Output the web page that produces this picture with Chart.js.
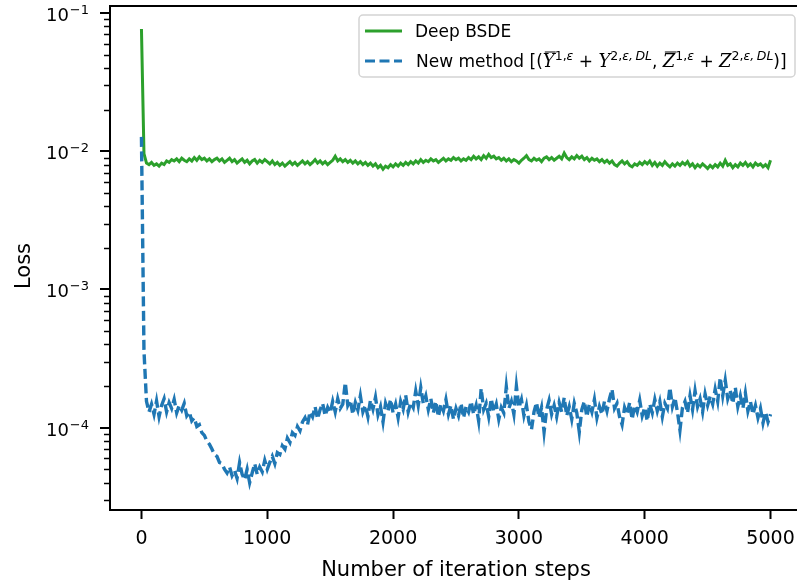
<!DOCTYPE html>
<html>
<head>
    <title>Loss curves</title>
    <style>
        html, body { margin: 0; padding: 0; overflow: hidden; background: #ffffff; }
        #wrap { width: 812px; height: 588px; }
    </style>
    <script src="https://cdn.jsdelivr.net/npm/chart.js"></script>
</head>
<body>
<div id="wrap"><canvas id="lossChart"></canvas></div>
<script>
// iteration steps are logged every 20 steps, 0..5000
const logEvery = 20;
const steps = Array.from({ length: 251 }, (_, i) => i * logEvery);

// Deep BSDE loss, in units of 1e-3
const greenLossE3 = [
    76.6, 9.6, 8.2, 8.0, 8.3, 7.9, 8.1, 7.8, 8.2, 8.0,
    8.5, 8.3, 8.7, 8.5, 8.8, 8.4, 8.9, 8.6, 8.4, 8.8,
    8.5, 9.0, 8.6, 9.1, 8.7, 8.9, 8.5, 8.8, 8.4, 8.7,
    8.9, 8.5, 8.8, 8.3, 8.6, 8.9, 8.4, 8.7, 8.2, 8.5,
    8.8, 8.3, 8.6, 8.1, 8.5, 8.7, 8.2, 8.6, 8.3, 8.7,
    8.4, 8.1, 8.5, 8.0, 8.3, 7.9, 8.2, 7.8, 8.1, 8.4,
    8.0, 8.3, 7.9, 8.2, 8.5, 8.1, 8.4, 8.0, 8.3, 8.7,
    8.2, 8.5, 8.1, 8.4, 8.0, 8.3, 8.6, 9.2, 8.5, 8.8,
    8.4, 8.7, 8.3, 8.6, 8.2, 8.5, 8.1, 8.4, 8.0, 8.3,
    7.9, 8.2, 7.8, 8.1, 7.6, 7.9, 7.4, 7.8, 7.6, 8.0,
    7.7, 8.1, 7.8, 8.2, 7.9, 8.3, 8.0, 8.4, 8.1, 8.5,
    8.2, 8.7, 8.3, 8.6, 8.4, 8.8, 8.5, 8.7, 8.3, 8.6,
    8.9, 8.5, 8.8, 8.6, 9.0, 8.7, 8.9, 8.5, 8.8, 8.6,
    9.0, 8.7, 9.2, 8.8, 9.1, 8.7, 9.3, 8.9, 9.5, 9.0,
    9.2, 8.8, 9.0, 8.6, 8.9, 8.5, 8.8, 8.4, 8.7, 8.5,
    8.2, 8.6, 8.9, 9.3, 8.7, 8.5, 8.9, 8.6, 8.8, 8.4,
    8.9, 9.1, 8.7, 9.0, 8.6, 8.9, 9.2, 8.8, 9.7, 9.0,
    8.7, 9.1, 8.8, 9.3, 8.9, 9.2, 8.7, 9.0, 8.5, 8.9,
    8.6, 8.8, 8.4, 8.7, 8.3, 8.6, 8.2, 8.5, 8.0, 7.8,
    8.2, 8.5, 8.1, 8.4, 7.9, 7.7, 8.1, 7.9, 8.3, 8.0,
    8.4, 8.1, 8.5, 7.9, 8.3, 7.8, 8.2, 7.9, 8.4, 8.0,
    7.7, 8.1, 7.8, 8.2, 7.9, 8.3, 8.0, 8.4, 7.8, 8.1,
    7.6, 8.0, 7.7, 8.1, 7.8, 7.5, 7.9, 7.6, 8.0, 7.7,
    8.2, 7.8, 8.6, 7.9, 8.1, 7.6, 8.0, 7.7, 8.2, 7.9,
    8.3, 7.8, 8.1, 7.7, 8.2, 7.9, 8.1, 7.7, 8.0, 7.6,
    8.6
];

// New method loss, in units of 1e-4
const blueLossE4 = [
    127, 3.6, 1.55, 1.30, 1.48, 1.25, 1.56, 1.20, 1.45, 1.62,
    1.30, 1.52, 1.38, 1.60, 1.28, 1.45, 1.34, 1.50, 1.22, 1.30,
    1.12, 1.18, 1.02, 1.05, 0.92, 0.88, 0.80, 0.76, 0.70, 0.64,
    0.62, 0.56, 0.55, 0.50, 0.47, 0.52, 0.45, 0.49, 0.43, 0.56,
    0.46, 0.42, 0.50, 0.40, 0.47, 0.55, 0.46, 0.52, 0.48, 0.58,
    0.50, 0.56, 0.62, 0.55, 0.66, 0.64, 0.74, 0.70, 0.84, 0.78,
    0.92, 0.88, 1.02, 0.95, 1.10, 1.18, 1.05, 1.30, 1.20, 1.42,
    1.16, 1.35, 1.50, 1.22, 1.40, 1.28, 1.55, 1.30, 1.62, 1.38,
    1.48, 2.12, 1.45, 1.58, 1.25, 1.52, 1.34, 1.70, 1.30, 1.45,
    1.20, 1.58, 1.36, 1.66, 1.24, 1.42, 1.10, 1.50, 1.32, 1.60,
    1.28, 1.48, 1.18, 1.55, 1.36, 1.72, 1.30, 1.52, 1.40, 1.84,
    1.45, 1.95, 1.50, 1.70, 1.35, 1.62, 1.28, 1.55, 1.20, 1.48,
    1.32, 1.60, 1.25, 1.45, 1.15, 1.38, 1.22, 1.50, 1.18, 1.42,
    1.30, 1.55, 1.25, 1.45, 1.12, 1.92, 1.35, 1.50, 1.20, 1.62,
    1.30, 1.48, 1.15, 1.40, 1.28, 1.98, 1.38, 1.55, 1.25, 2.00,
    1.40, 1.60, 1.22, 1.45, 1.10, 0.97, 1.30, 1.52, 1.18, 1.40,
    0.93, 1.35, 1.58, 1.25, 1.45, 1.20, 1.52, 1.30, 1.65, 1.22,
    1.42, 1.15, 1.50, 1.28, 0.93, 1.35, 1.55, 1.20, 1.48, 1.30,
    1.60, 1.18, 1.42, 1.25, 1.55, 1.32, 1.62, 1.90, 1.38, 1.50,
    1.20, 1.05, 1.40, 1.25, 1.52, 1.15, 1.45, 1.30, 1.58, 1.22,
    1.40, 1.12, 1.48, 1.28, 1.60, 1.32, 1.55, 1.20, 1.50, 1.38,
    1.95, 1.42, 1.65, 1.30, 0.96, 1.40, 1.55, 1.28, 1.70, 1.35,
    1.85, 1.42, 1.62, 1.30, 1.75, 1.45, 1.68, 1.48, 1.90, 1.55,
    2.30, 1.70, 2.20, 1.62, 1.85, 1.50, 1.95, 1.42, 1.70, 1.38,
    1.78, 1.32, 1.55, 1.25, 1.45, 1.18, 1.38, 1.08, 1.30, 1.10,
    1.25
];

const xTickValues = [0, 1000, 2000, 3000, 4000, 5000];
const yMajorTicks = [1e-4, 1e-3, 1e-2, 1e-1];
const yMajorExponents = ['\u22124', '\u22123', '\u22122', '\u22121'];
const yMinorTicks = [];
[1e-5, 1e-4, 1e-3, 1e-2].forEach(d => {
    for (let k = 2; k <= 9; k++) yMinorTicks.push(k * d);
});

const GREEN = '#2ca02c';
const BLUE = '#1f77b4';
const SANS = '"DejaVu Sans", sans-serif';

const greenPoints = steps.map((s, i) => ({ x: s, y: greenLossE3[i] * 1e-3 }));
const bluePoints = steps.map((s, i) => ({ x: s, y: blueLossE4[i] * 1e-4 }));

// draws a run of text pieces (normal, italic, superscript, overline)
function drawPieces(ctx, pieces, x, y) {
    pieces.forEach(p => {
        ctx.font = p.font;
        const dy = p.sup ? -7 : 0;
        ctx.fillText(p.t, x, y + dy);
        const w = ctx.measureText(p.t).width;
        if (p.over) {
            ctx.lineWidth = 1;
            ctx.beginPath();
            ctx.moveTo(x + 2, y - 14.5);
            ctx.lineTo(x + w + 1, y - 14.5);
            ctx.stroke();
        }
        x += w;
    });
    return x;
}

const decorPlugin = {
    id: 'decor',
    afterDraw(chart) {
        const { ctx, chartArea: a, scales: { y } } = chart;
        ctx.save();
        ctx.strokeStyle = '#000';
        ctx.fillStyle = '#000';

        // y minor ticks
        ctx.lineWidth = 1.5;
        yMinorTicks.forEach(v => {
            const py = Math.round(y.getPixelForValue(v)) + 0.5;
            if (py < a.top || py > a.bottom) return;
            ctx.beginPath();
            ctx.moveTo(a.left - 6, py);
            ctx.lineTo(a.left, py);
            ctx.stroke();
        });

        // y major ticks + 10^n labels
        yMajorTicks.forEach((v, i) => {
            const py = Math.round(y.getPixelForValue(v));
            ctx.lineWidth = 2;
            ctx.beginPath();
            ctx.moveTo(a.left - 10, py);
            ctx.lineTo(a.left, py);
            ctx.stroke();
            const base = '10', exp = yMajorExponents[i];
            ctx.font = '18px ' + SANS;
            const wb = ctx.measureText(base).width;
            ctx.font = '13px ' + SANS;
            const we = ctx.measureText(exp).width;
            const x0 = 88 - wb - we;
            ctx.textBaseline = 'alphabetic';
            ctx.font = '18px ' + SANS;
            ctx.fillText(base, x0, py + 7.5);
            ctx.font = '13px ' + SANS;
            ctx.fillText(exp, x0 + wb + 1, py + 0.5);
        });

        // spines
        ctx.lineWidth = 2;
        ctx.strokeRect(a.left, a.top, a.right - a.left, a.bottom - a.top);

        // y title
        ctx.save();
        ctx.translate(30, 266);
        ctx.rotate(-Math.PI / 2);
        ctx.font = '21px ' + SANS;
        ctx.textAlign = 'center';
        ctx.textBaseline = 'alphabetic';
        ctx.fillText('Loss', 0, 0);
        ctx.restore();

        // legend
        const lx = 359, ly = 15, lw = 436, lh = 62;
        ctx.beginPath();
        ctx.roundRect(lx, ly, lw, lh, 4);
        ctx.fillStyle = 'rgba(255,255,255,0.85)';
        ctx.fill();
        ctx.strokeStyle = '#d4d4d4';
        ctx.lineWidth = 1.5;
        ctx.stroke();

        ctx.lineWidth = 3;
        ctx.strokeStyle = GREEN;
        ctx.beginPath();
        ctx.moveTo(365, 31);
        ctx.lineTo(402, 31);
        ctx.stroke();

        ctx.strokeStyle = BLUE;
        ctx.setLineDash([10, 4.5]);
        ctx.beginPath();
        ctx.moveTo(365, 61);
        ctx.lineTo(402, 61);
        ctx.stroke();
        ctx.setLineDash([]);

        ctx.fillStyle = '#000';
        ctx.strokeStyle = '#000';
        ctx.textAlign = 'left';
        ctx.textBaseline = 'alphabetic';
        ctx.font = '17px ' + SANS;
        ctx.fillText('Deep BSDE', 415, 37);

        const main = '17px ' + SANS;
        const cal = 'italic 18px "DejaVu Serif", serif';
        const sup = '12.5px ' + SANS;
        const supIt = 'italic 12.5px ' + SANS;
        drawPieces(ctx, [
            { t: 'New method [(', font: main },
            { t: 'Y', font: cal, over: true },
            { t: '1,', font: sup, sup: true },
            { t: '\u03b5', font: supIt, sup: true },
            { t: ' + ', font: main },
            { t: 'Y', font: cal },
            { t: '2,', font: sup, sup: true },
            { t: '\u03b5,\u2009DL', font: supIt, sup: true },
            { t: ', ', font: main },
            { t: 'Z', font: cal, over: true },
            { t: '1,', font: sup, sup: true },
            { t: '\u03b5', font: supIt, sup: true },
            { t: ' + ', font: main },
            { t: 'Z', font: cal },
            { t: '2,', font: sup, sup: true },
            { t: '\u03b5,\u2009DL', font: supIt, sup: true },
            { t: ')]', font: main }
        ], 416, 66.5);

        ctx.restore();
    }
};

new Chart(document.getElementById('lossChart'), {
    type: 'line',
    data: {
        datasets: [{
            label: 'Deep BSDE',
            data: greenPoints,
            borderColor: GREEN,
            borderWidth: 3,
            pointRadius: 0,
            tension: 0,
            order: 2
        }, {
            label: 'New method',
            data: bluePoints,
            borderColor: BLUE,
            borderWidth: 3.4,
            borderDash: [10, 4.5],
            pointRadius: 0,
            tension: 0,
            order: 1
        }]
    },
    options: {
        responsive: true,
        maintainAspectRatio: false,
        animation: false,
        layout: { padding: { top: 6, right: 10, left: 0, bottom: 0 } },
        plugins: {
            legend: { display: false },
            tooltip: { enabled: false }
        },
        scales: {
            x: {
                type: 'linear',
                min: -250,
                max: 5250,
                afterBuildTicks: s => { s.ticks = xTickValues.map(v => ({ value: v })); },
                afterFit: s => { s.height = 78; },
                ticks: {
                    color: '#000',
                    font: { family: SANS, size: 19 },
                    padding: 9,
                    maxRotation: 0,
                    autoSkip: false,
                    callback: v => String(v)
                },
                grid: {
                    display: true,
                    drawOnChartArea: false,
                    drawTicks: true,
                    tickLength: 9,
                    tickWidth: 2,
                    tickColor: '#000'
                },
                border: { display: false },
                title: {
                    display: true,
                    text: 'Number of iteration steps',
                    color: '#000',
                    font: { family: SANS, size: 21 },
                    padding: { top: 0, bottom: 5 }
                }
            },
            y: {
                type: 'logarithmic',
                min: 2.538e-5,
                max: 0.11236,
                afterFit: s => { s.width = 110; },
                ticks: { display: false },
                grid: { display: false },
                border: { display: false }
            }
        }
    },
    plugins: [decorPlugin]
});
</script>
</body>
</html>
